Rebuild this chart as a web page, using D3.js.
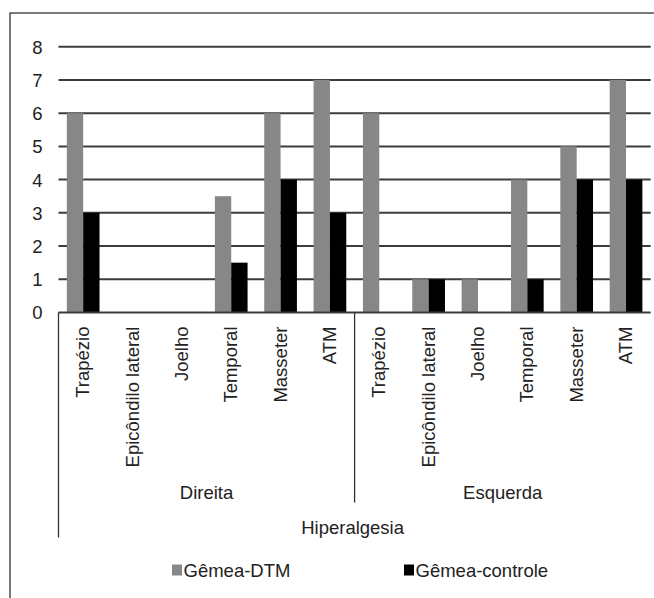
<!DOCTYPE html>
<meta charset="utf-8">
<style>
body { margin: 0; background: #fff; }
text { font-family: 'Liberation Sans', Arial, sans-serif; fill: #222; }
.tick text { font-size: 18.5px; }
.catLabel, .groupLabel, .titleLabel, .legendLabel { font-size: 18.5px; }
</style>
<svg width="654" height="598"></svg>
<script src="https://d3js.org/d3.v7.min.js"></script>
<script>

var categories = ["Trapézio", "Epicôndilo lateral", "Joelho", "Temporal", "Masseter", "ATM"];
var groups = ["Direita", "Esquerda"];
var seriesNames = ["Gêmea-DTM", "Gêmea-controle"];
var dtmDireita = [6, 0, 0, 3.5, 6, 7];
var controleDireita = [3, 0, 0, 1.5, 4, 3];
var dtmEsquerda = [6, 1, 1, 4, 5, 7];
var controleEsquerda = [0, 1, 0, 1, 4, 4];
var yTicks = [0, 1, 2, 3, 4, 5, 6, 7, 8];
var axisTitle = "Hiperalgesia";

var colors = ["#878787", "#000000"];

var svg = d3.select("svg"),
    margin = {top: 46.7, left: 58.5},
    plotWidth = 592.2,
    plotHeight = 265.8;

// outer frame (right and bottom edges fall outside the picture)
svg.append("rect")
    .attr("x", 10).attr("y", 13)
    .attr("width", 700).attr("height", 650)
    .attr("fill", "none")
    .attr("stroke", "#333")
    .attr("stroke-width", 1.3);

var rows = [];
groups.forEach(function(g, gi) {
  var dtm = gi == 0 ? dtmDireita : dtmEsquerda;
  var ctl = gi == 0 ? controleDireita : controleEsquerda;
  categories.forEach(function(c, ci) {
    rows.push({key: g + "|" + c, group: g, cat: c, values: [dtm[ci], ctl[ci]]});
  });
});

var x0 = d3.scaleBand().domain(rows.map(function(d) { return d.key; }))
    .range([0, plotWidth]).padding(0);
var x1 = d3.scaleBand().domain(seriesNames)
    .range([0, x0.bandwidth()]).paddingInner(0).paddingOuter(0.51);
var y = d3.scaleLinear().domain([0, 8]).range([plotHeight, 0]);

var g = svg.append("g")
    .attr("transform", "translate(" + margin.left + "," + margin.top + ")");

// horizontal gridlines
g.selectAll(".grid")
  .data(yTicks.slice(1))
  .enter().append("line")
    .attr("x1", 0).attr("x2", plotWidth)
    .attr("y1", function(d) { return y(d); })
    .attr("y2", function(d) { return y(d); })
    .attr("stroke", "#3c3c3c")
    .attr("stroke-width", 2);

// y axis labels
var yAxis = g.append("g")
    .attr("transform", "translate(-8,0)")
    .call(d3.axisLeft(y).tickValues(yTicks).tickSize(0).tickPadding(8));
yAxis.select(".domain").remove();
yAxis.selectAll("text").attr("fill", "#222").attr("dy", "0.35em");

// bars
var cat = g.selectAll(".cat")
  .data(rows)
  .enter().append("g")
    .attr("transform", function(d) { return "translate(" + x0(d.key) + ",0)"; });

cat.selectAll("rect")
  .data(function(d) { return d.values.map(function(v, i) { return {name: seriesNames[i], value: v, i: i}; }); })
  .enter().append("rect")
    .attr("x", function(d) { return x1(d.name); })
    .attr("width", x1.bandwidth())
    .attr("y", function(d) { return y(d.value); })
    .attr("height", function(d) { return plotHeight - y(d.value); })
    .attr("fill", function(d) { return colors[d.i]; });

// x axis baseline
g.append("line")
    .attr("x1", 0).attr("x2", plotWidth)
    .attr("y1", plotHeight).attr("y2", plotHeight)
    .attr("stroke", "#3c3c3c").attr("stroke-width", 2);

// category labels
cat.append("text")
    .attr("class", "catLabel")
    .attr("transform", function(d) {
      return "translate(" + (x0.bandwidth() / 2 + 6) + "," + (plotHeight + 14) + ") rotate(-90)";
    })
    .attr("text-anchor", "end")
    .text(function(d) { return d.cat; });

// group separators and labels
var groupWidth = plotWidth / groups.length;
g.append("line")
    .attr("x1", 0).attr("x2", 0)
    .attr("y1", plotHeight).attr("y2", plotHeight + 225)
    .attr("stroke", "#333").attr("stroke-width", 1.3);
g.append("line")
    .attr("x1", groupWidth).attr("x2", groupWidth)
    .attr("y1", plotHeight).attr("y2", plotHeight + 190)
    .attr("stroke", "#333").attr("stroke-width", 1.3);

g.selectAll(".groupLabel")
  .data(groups)
  .enter().append("text")
    .attr("class", "groupLabel")
    .attr("x", function(d, i) { return groupWidth * i + groupWidth / 2; })
    .attr("y", plotHeight + 187)
    .attr("text-anchor", "middle")
    .text(function(d) { return d; });

g.append("text")
    .attr("class", "titleLabel")
    .attr("x", plotWidth / 2 - 2)
    .attr("y", plotHeight + 222)
    .attr("text-anchor", "middle")
    .text(axisTitle);

// legend
var legendX = [172, 404];
var legend = svg.selectAll(".legend")
  .data(seriesNames)
  .enter().append("g")
    .attr("transform", function(d, i) { return "translate(" + legendX[i] + ",570)"; });
legend.append("rect")
    .attr("x", 0).attr("y", -5.5)
    .attr("width", 10).attr("height", 11)
    .attr("fill", function(d, i) { return colors[i]; });
legend.append("text")
    .attr("class", "legendLabel")
    .attr("x", 11.5).attr("y", 6.5)
    .text(function(d) { return d; });

</script>
